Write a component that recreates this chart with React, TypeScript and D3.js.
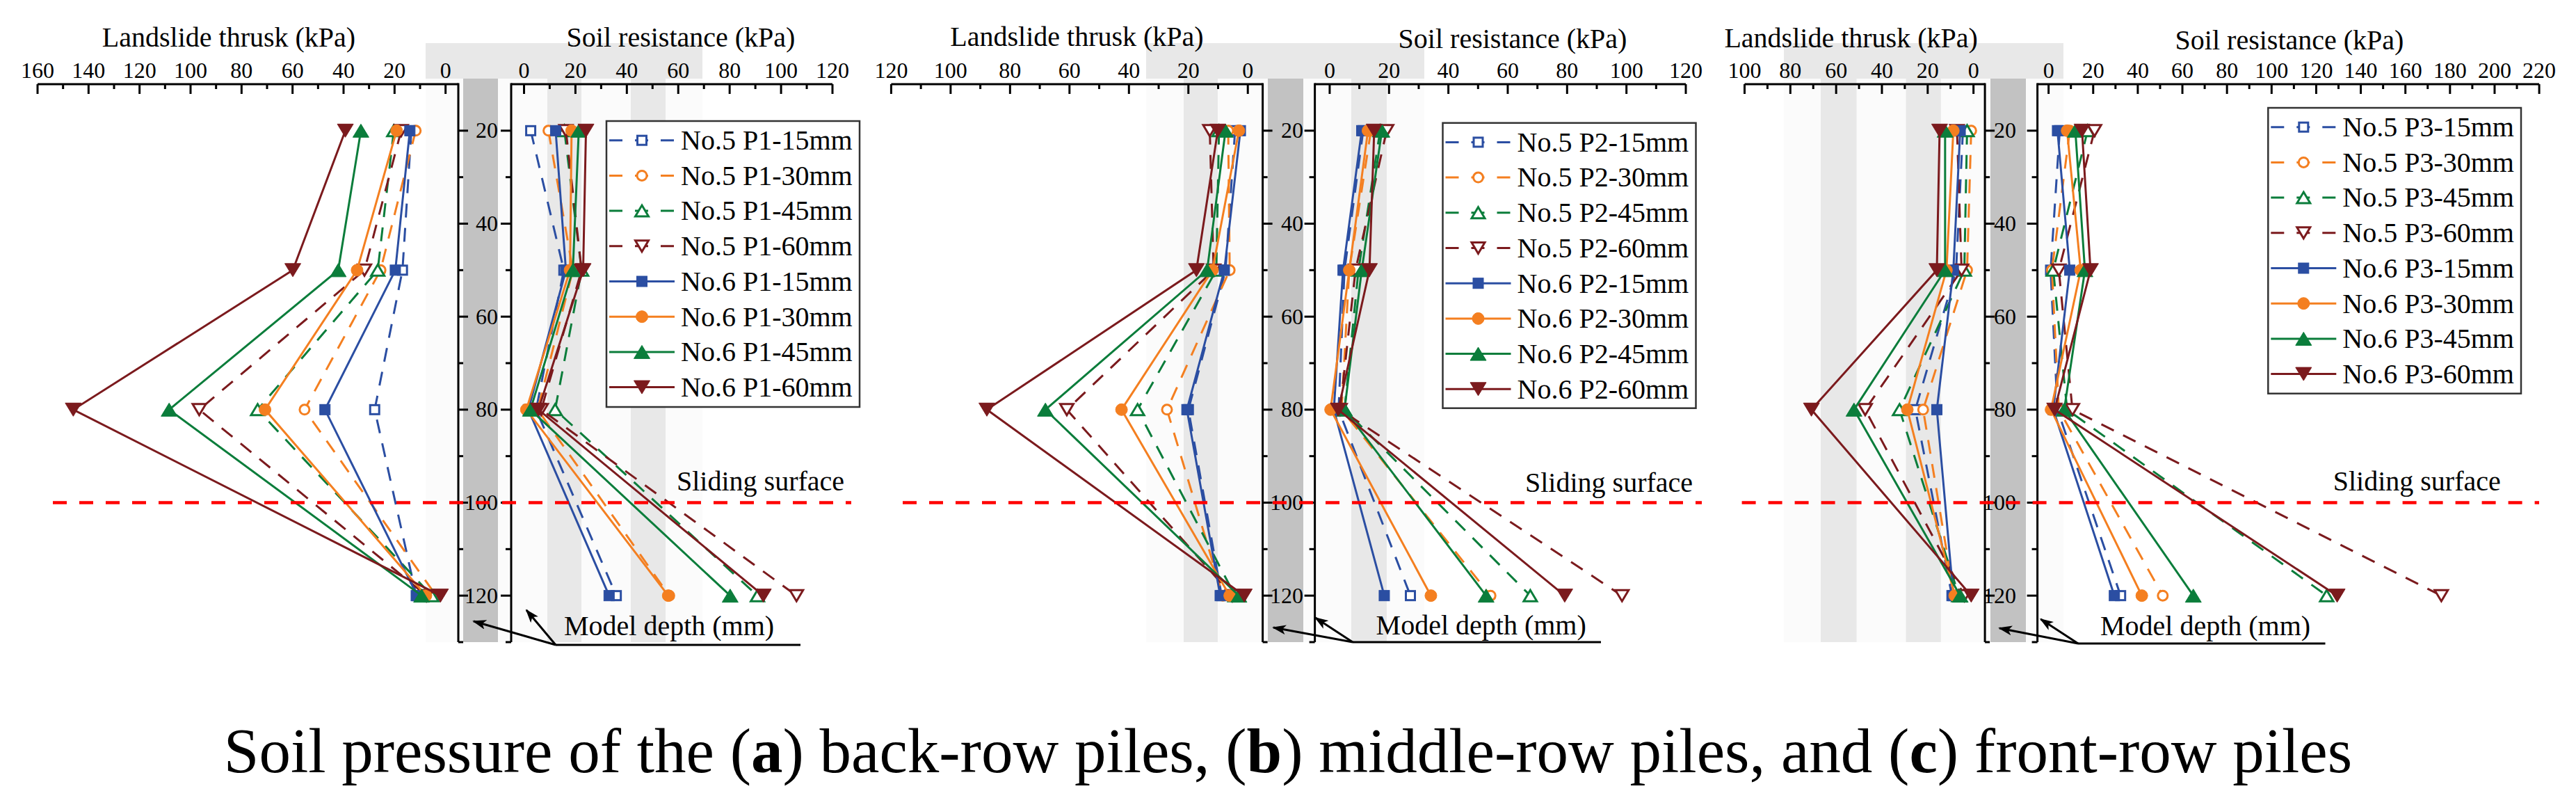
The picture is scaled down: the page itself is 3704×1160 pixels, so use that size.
import React from 'react';
import * as d3 from 'd3';

// ---------------- DATA ----------------
const depthsMm = [20, 50, 80, 120];
const testGroups = ['No.5', 'No.6'];
const pileLabels = ['P1', 'P2', 'P3'];
const displacements = ['15mm', '30mm', '45mm', '60mm'];

// rows: No.5 15/30/45/60mm, No.6 15/30/45/60mm ; columns: depth 20, 50, 80, 120 mm
const thrustP1 = [
  [13.4, 16.9, 27.8, 11.5],
  [11.7, 25.5, 55.3, 3.7],
  [20.3, 26.6, 73.7, 5.4],
  [17.4, 31.8, 96.6, 7.5],
  [14.0, 19.7, 47.3, 11.1],
  [19.2, 34.7, 70.8, 7.7],
  [33.2, 42.1, 108.4, 9.4],
  [39.3, 59.9, 146.0, 2.0],
];
const resistP1 = [
  [2.6, 15.5, 4.7, 35.9],
  [9.5, 19.0, 5.3, 56.5],
  [15.7, 22.4, 12.1, 90.8],
  [16.3, 22.4, 6.7, 106.0],
  [12.3, 16.3, 1.7, 33.1],
  [18.5, 17.9, 0.9, 56.1],
  [21.3, 19.0, 2.5, 80.2],
  [24.1, 23.0, 5.6, 93.1],
];
const thrustP2 = [
  [4.3, 7.5, 20.0, 8.8],
  [6.6, 6.1, 27.2, 8.4],
  [9.7, 10.6, 37.1, 4.3],
  [12.8, 11.5, 60.9, 5.2],
  [2.5, 7.9, 20.5, 9.3],
  [3.0, 11.9, 42.5, 6.1],
  [7.5, 13.7, 68.1, 3.0],
  [10.1, 17.3, 87.8, 1.2],
];
const resistP2 = [
  [11.3, 5.0, 3.0, 27.2],
  [13.9, 6.6, 4.0, 54.2],
  [17.0, 9.7, 5.0, 67.6],
  [19.2, 8.7, 3.5, 98.5],
  [10.8, 4.5, 1.4, 18.4],
  [12.9, 6.6, 0.3, 34.1],
  [17.6, 10.8, 5.0, 52.7],
  [15.0, 13.4, 2.9, 79.2],
];
const thrustP3 = [
  [4.6, 7.6, 25.4, 9.4],
  [1.0, 2.8, 22.0, 8.5],
  [2.8, 4.0, 32.3, 6.4],
  [7.2, 5.2, 47.3, 4.0],
  [5.8, 8.8, 16.0, 8.8],
  [8.8, 11.8, 28.9, 8.2],
  [12.4, 12.4, 52.2, 5.8],
  [14.8, 16.0, 70.8, 1.0],
];
const resistP3 = [
  [5.0, 0.9, 4.0, 32.3],
  [9.5, 1.5, 4.6, 51.2],
  [17.5, 2.1, 8.3, 124.7],
  [20.6, 4.6, 10.7, 176.1],
  [4.0, 9.5, 2.1, 29.5],
  [8.3, 14.4, 1.1, 41.8],
  [12.0, 16.3, 7.0, 64.9],
  [15.0, 18.8, 2.7, 129.4],
];

const thrustTicksP1 = [160, 140, 120, 100, 80, 60, 40, 20, 0];
const resistTicksP1 = [0, 20, 40, 60, 80, 100, 120];
const thrustTicksP2 = [120, 100, 80, 60, 40, 20, 0];
const resistTicksP2 = [0, 20, 40, 60, 80, 100, 120];
const thrustTicksP3 = [100, 80, 60, 40, 20, 0];
const resistTicksP3 = [0, 20, 40, 60, 80, 100, 120, 140, 160, 180, 200, 220];
const depthTicks = [20, 40, 60, 80, 100, 120];
const slidingDepth = 100;

const thrustTitle = 'Landslide thrusk (kPa)';
const resistTitle = 'Soil resistance (kPa)';
const depthTitle = 'Model depth (mm)';
const slidingTitle = 'Sliding surface';

// ---------------- STYLE / LAYOUT ----------------
const FONT = '"Liberation Serif", "Times New Roman", Times, serif';
const COLORS = ['#2b4ea2', '#f47f20', '#0b7d3b', '#7b1a1d'];
const SHAPES = ['square', 'circle', 'up', 'down'];
const Y_TOP = 121;
const Y_BOT = 923;
const yScale = d3.scaleLinear().domain([10, 130]).range([Y_TOP, Y_BOT]);

const LAYOUT = [
  {
    thrust: thrustP1, resist: resistP1, tT: thrustTicksP1, rT: resistTicksP1,
    thrustDomain: [160, -5], thrustRange: [54, 659], resistDomain: [-5, 120], resistRange: [735, 1197],
    pile: [666, 716], light: [[787, 836], [907, 957]], top: [612, 1010],
    legend: { x: 872, y: 174, w: 364, h: 411 },
    sliding: { x1: 76, x2: 1224, lx: 973, ly: 705 }, depthLabelX: 716,
    model: { x: 811, y: 913, ux1: 799, ux2: 1151, uy: 927, a1: [681, 893], a2: [757, 877] },
    titleL: [329, 67], titleR: [979, 67],
  },
  {
    thrust: thrustP2, resist: resistP2, tT: thrustTicksP2, rT: resistTicksP2,
    thrustDomain: [120, -5], thrustRange: [1281.4, 1815.6], resistDomain: [-5, 120], resistRange: [1890.6, 2424],
    pile: [1823, 1874], light: [[1702, 1751], [1943, 1994]], top: [1648, 2048],
    legend: { x: 2074.5, y: 176.7, w: 364, h: 410 },
    sliding: { x1: 1298, x2: 2447, lx: 2193, ly: 707 }, depthLabelX: 1874,
    model: { x: 1978.6, y: 912, ux1: 1945, ux2: 2302, uy: 923, a1: [1831, 902], a2: [1891.5, 888] },
    titleL: [1548.5, 66], titleR: [2175, 69],
  },
  {
    thrust: thrustP3, resist: resistP3, tT: thrustTicksP3, rT: resistTicksP3,
    thrustDomain: [100, -5], thrustRange: [2508.5, 2854.1], resistDomain: [-5, 220], resistRange: [2929.6, 3651.1],
    pile: [2862, 2913], light: [[2618, 2669.5], [2740.6, 2790.8]], top: [2565, 2967],
    legend: { x: 3261.3, y: 155, w: 363.7, h: 410.7 },
    sliding: { x1: 2504.6, x2: 3651, lx: 3354.7, ly: 705 }, depthLabelX: 2899,
    model: { x: 3020, y: 913, ux1: 2988, ux2: 3343.5, uy: 925, a1: [2875, 903], a2: [2934.4, 890] },
    titleL: [2661.6, 68], titleR: [3292, 71],
  },
];

function Marker({ shape, filled, color, x, y }: any) {
  const fill = filled ? color : '#ffffff';
  const sw = filled ? 1 : 3;
  if (shape === 'square') {
    const s = filled ? 15 : 13;
    return <rect x={x - s / 2} y={y - s / 2} width={s} height={s} fill={fill} stroke={color} strokeWidth={sw} />;
  }
  if (shape === 'circle') {
    const r = filled ? 8.5 : 7;
    return <circle cx={x} cy={y} r={r} fill={fill} stroke={color} strokeWidth={sw} />;
  }
  const w = filled ? 11.5 : 9.5;
  const h = filled ? 9.5 : 8;
  const pts = shape === 'up'
    ? `${x},${y - h} ${x + w},${y + h} ${x - w},${y + h}`
    : `${x},${y + h} ${x + w},${y - h} ${x - w},${y - h}`;
  return <polygon points={pts} fill={fill} stroke={color} strokeWidth={sw} strokeLinejoin="miter" />;
}

function minorOf(ticks: number[]) {
  const lo = Math.min(...ticks), hi = Math.max(...ticks);
  const out: number[] = [];
  for (let v = lo + 10; v < hi; v += 20) out.push(v);
  return out;
}

function Panel({ p, pi }: any) {
  const xT = d3.scaleLinear().domain(p.thrustDomain).range(p.thrustRange);
  const xR = d3.scaleLinear().domain(p.resistDomain).range(p.resistRange);
  const lineT = d3.line<[number, number]>().x(d => xT(d[0])).y(d => yScale(d[1]));
  const lineR = d3.line<[number, number]>().x(d => xR(d[0])).y(d => yScale(d[1]));
  const depthMinor = [30, 50, 70, 90, 110, 130];
  const lFrame = p.thrustRange[1];
  const rFrame = p.resistRange[0];

  const series = p.thrust.map((row: number[], i: number) => ({
    i,
    color: COLORS[i % 4],
    shape: SHAPES[i % 4],
    filled: i >= 4,
    label: `${testGroups[Math.floor(i / 4)]} ${pileLabels[pi]}-${displacements[i % 4]}`,
    t: row.map((v, k) => [v, depthsMm[k]] as [number, number]),
    r: p.resist[i].map((v: number, k: number) => [v, depthsMm[k]] as [number, number]),
  }));

  return (
    <g>
      {/* pile illustration */}
      <rect x={p.top[0]} y={113} width={p.top[1] - p.top[0]} height={Y_BOT - 113} fill="#fbfbfb" />
      <rect x={p.top[0]} y={62} width={p.top[1] - p.top[0]} height={51} fill="#e8e8e8" />
      {p.light.map((b: number[], k: number) => (
        <rect key={k} x={b[0]} y={113} width={b[1] - b[0]} height={Y_BOT - 113} fill="#e8e8e8" />
      ))}
      <rect x={p.pile[0]} y={113} width={p.pile[1] - p.pile[0]} height={Y_BOT - 113} fill="#c2c2c2" />

      {/* thrust axis (top) */}
      <line x1={p.thrustRange[0]} x2={lFrame} y1={Y_TOP} y2={Y_TOP} stroke="#000" strokeWidth={3} />
      {p.tT.map((t: number) => (
        <g key={'tt' + t}>
          <line x1={xT(t)} x2={xT(t)} y1={Y_TOP} y2={Y_TOP + 14} stroke="#000" strokeWidth={3} />
          <text x={xT(t)} y={Y_TOP - 9} fontSize={32} textAnchor="middle" fontFamily={FONT}>{t}</text>
        </g>
      ))}
      {minorOf(p.tT).map((t: number) => (
        <line key={'tm' + t} x1={xT(t)} x2={xT(t)} y1={Y_TOP} y2={Y_TOP + 7} stroke="#000" strokeWidth={3} />
      ))}
      <line x1={lFrame} x2={lFrame} y1={Y_TOP - 1.5} y2={Y_BOT} stroke="#000" strokeWidth={3} />

      {/* resistance axis (top) */}
      <line x1={rFrame} x2={p.resistRange[1]} y1={Y_TOP} y2={Y_TOP} stroke="#000" strokeWidth={3} />
      {p.rT.map((t: number) => (
        <g key={'rt' + t}>
          <line x1={xR(t)} x2={xR(t)} y1={Y_TOP} y2={Y_TOP + 14} stroke="#000" strokeWidth={3} />
          <text x={xR(t)} y={Y_TOP - 9} fontSize={32} textAnchor="middle" fontFamily={FONT}>{t}</text>
        </g>
      ))}
      {minorOf(p.rT).map((t: number) => (
        <line key={'rm' + t} x1={xR(t)} x2={xR(t)} y1={Y_TOP} y2={Y_TOP + 7} stroke="#000" strokeWidth={3} />
      ))}
      <line x1={rFrame} x2={rFrame} y1={Y_TOP - 1.5} y2={Y_BOT} stroke="#000" strokeWidth={3} />

      {/* depth ticks */}
      {depthTicks.map(d => (
        <g key={'d' + d}>
          <line x1={lFrame} x2={lFrame + 14} y1={yScale(d)} y2={yScale(d)} stroke="#000" strokeWidth={3} />
          <line x1={rFrame - 15} x2={rFrame} y1={yScale(d)} y2={yScale(d)} stroke="#000" strokeWidth={3} />
          <text x={p.depthLabelX} y={yScale(d) + 10.5} fontSize={32} textAnchor="end" fontFamily={FONT}>{d}</text>
        </g>
      ))}
      {depthMinor.map(d => (
        <g key={'dm' + d}>
          <line x1={lFrame} x2={lFrame + 7} y1={yScale(d)} y2={yScale(d)} stroke="#000" strokeWidth={3} />
          <line x1={rFrame - 8} x2={rFrame} y1={yScale(d)} y2={yScale(d)} stroke="#000" strokeWidth={3} />
        </g>
      ))}

      {/* titles */}
      <text x={p.titleL[0]} y={p.titleL[1]} fontSize={40} textAnchor="middle" fontFamily={FONT}>{thrustTitle}</text>
      <text x={p.titleR[0]} y={p.titleR[1]} fontSize={40} textAnchor="middle" fontFamily={FONT}>{resistTitle}</text>

      {/* series */}
      {series.map((s: any) => (
        <g key={'s' + s.i}>
          <path d={lineT(s.t) || ''} fill="none" stroke={s.color} strokeWidth={3}
            strokeDasharray={s.filled ? undefined : '20 15'} />
          <path d={lineR(s.r) || ''} fill="none" stroke={s.color} strokeWidth={3}
            strokeDasharray={s.filled ? undefined : '20 15'} />
          {s.t.map((d: [number, number], k: number) => (
            <Marker key={'mt' + k} shape={s.shape} filled={s.filled} color={s.color} x={xT(d[0])} y={yScale(d[1])} />
          ))}
          {s.r.map((d: [number, number], k: number) => (
            <Marker key={'mr' + k} shape={s.shape} filled={s.filled} color={s.color} x={xR(d[0])} y={yScale(d[1])} />
          ))}
        </g>
      ))}

      {/* sliding surface */}
      <line x1={p.sliding.x1} x2={p.sliding.x2} y1={yScale(slidingDepth)} y2={yScale(slidingDepth)}
        stroke="#ff0000" strokeWidth={4.5} strokeDasharray="20 18" />
      <text x={p.sliding.lx} y={p.sliding.ly} fontSize={40} fontFamily={FONT}>{slidingTitle}</text>

      {/* model depth annotation */}
      <text x={p.model.x} y={p.model.y} fontSize={40} fontFamily={FONT}>{depthTitle}</text>
      <line x1={p.model.ux1} x2={p.model.ux2} y1={p.model.uy} y2={p.model.uy} stroke="#000" strokeWidth={3} />
      <line x1={p.model.ux1} y1={p.model.uy} x2={p.model.a1[0]} y2={p.model.a1[1]} stroke="#000" strokeWidth={3} markerEnd="url(#arrow)" />
      <line x1={p.model.ux1} y1={p.model.uy} x2={p.model.a2[0]} y2={p.model.a2[1]} stroke="#000" strokeWidth={3} markerEnd="url(#arrow)" />

      {/* legend */}
      <rect x={p.legend.x} y={p.legend.y} width={p.legend.w} height={p.legend.h} fill="#fff" stroke="#333" strokeWidth={2.5} />
      {series.map((s: any) => {
        const cy = p.legend.y + 27.7 + s.i * 50.7;
        return (
          <g key={'lg' + s.i}>
            <line x1={p.legend.x + 4} x2={p.legend.x + 98} y1={cy} y2={cy} stroke={s.color} strokeWidth={3}
              strokeDasharray={s.filled ? undefined : '19 18'} />
            <Marker shape={s.shape} filled={s.filled} color={s.color} x={p.legend.x + 51} y={cy} />
            <text x={p.legend.x + 107} y={cy + 13.3} fontSize={40} fontFamily={FONT}>{s.label}</text>
          </g>
        );
      })}
    </g>
  );
}

export default function App() {
  return (
    <svg width={3704} height={1160} viewBox="0 0 3704 1160"
      style={{ position: 'absolute', left: 0, top: 0, display: 'block', background: '#fff' }}>
      <defs>
        <marker id="arrow" viewBox="0 0 20 14" refX={18} refY={7} markerWidth={20} markerHeight={14}
          markerUnits="userSpaceOnUse" orient="auto">
          <path d="M0,0 L20,7 L0,14 L5,7 Z" fill="#000" />
        </marker>
      </defs>
      <rect x={0} y={0} width={3704} height={1160} fill="#fff" />
      {LAYOUT.map((p, pi) => <Panel key={pi} p={p} pi={pi} />)}
      <text x={1852} y={1110} fontSize={91} textAnchor="middle" fontFamily={FONT}>
        {'Soil pressure of the ('}<tspan fontWeight="bold">a</tspan>{') back-row piles, ('}
        <tspan fontWeight="bold">b</tspan>{') middle-row piles, and ('}
        <tspan fontWeight="bold">c</tspan>{') front-row piles'}
      </text>
    </svg>
  );
}
